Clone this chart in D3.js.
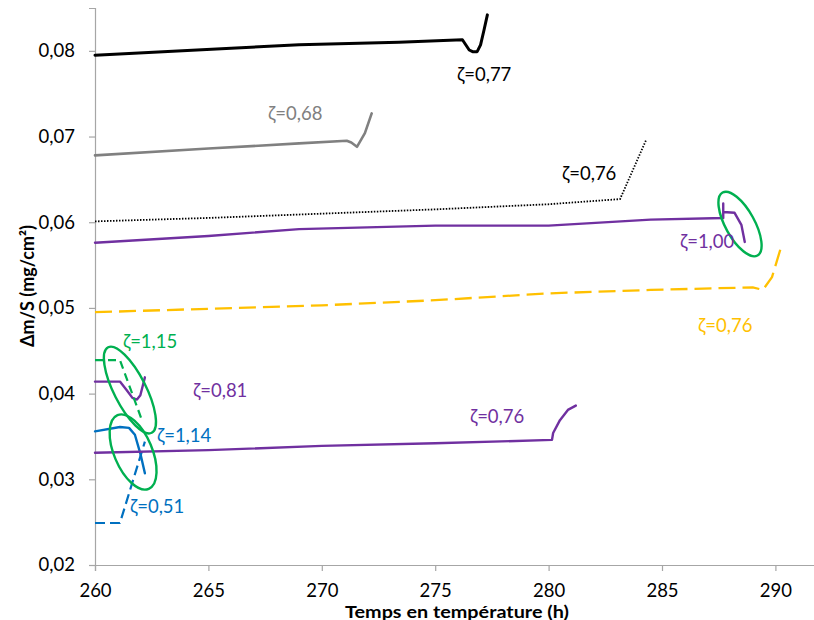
<!DOCTYPE html>
<html>
<head>
<meta charset="utf-8">
<script src="https://cdn.jsdelivr.net/npm/d3@7"></script>
<style>
  body { margin: 0; background: #fff; }
  svg { display: block; font-family: Lato, "Open Sans", sans-serif; }
</style>
</head>
<body>
<svg id="chart" width="814" height="620"></svg>
<script>
// ---------- data ----------
const xTicks = [260, 265, 270, 275, 280, 285, 290];
const yTicks = [0.02, 0.03, 0.04, 0.05, 0.06, 0.07, 0.08];
const yTickLabels = ["0,02", "0,03", "0,04", "0,05", "0,06", "0,07", "0,08"];
const xTitle = "Temps en température (h)";
const yTitle = "Δm/S (mg/cm²)";

const black077 = [[260,0.0795],[263,0.0799],[266,0.0803],[269,0.0807],[273.4,0.0810],[276.2,0.0813],[276.5,0.0801],[276.65,0.0799],[276.85,0.0799],[277.0,0.0807],[277.15,0.0824],[277.3,0.0842]];
const gray068 = [[260,0.0678],[265,0.0686],[269,0.0692],[271.1,0.0695],[271.3,0.0693],[271.55,0.0688],[271.9,0.0704],[272.2,0.0727]];
const dotted076 = [[260,0.0601],[265,0.0605],[270,0.0610],[275,0.0615],[280,0.0621],[283.15,0.0627],[284.3,0.0696]];
const purple100 = [[260,0.0576],[265,0.0584],[269,0.0592],[275,0.0596],[280,0.0596],[284.5,0.0603],[287.7,0.0605],[287.7,0.0622],[287.7,0.0612],[288.2,0.0611],[288.5,0.0597],[288.65,0.0577]];
const yellow076 = [[260,0.0495],[265,0.0499],[270,0.0503],[275,0.0509],[280,0.0517],[284.5,0.0521],[289.0,0.0524],[289.45,0.0521],[289.85,0.0536],[290.25,0.0571]];
const purple081 = [[260,0.0414],[261.1,0.0414],[261.4,0.0404],[261.65,0.0395],[261.85,0.0393],[262.0,0.0398],[262.2,0.0419]];
const green115 = [[260,0.0439],[261.1,0.0439],[262.07,0.0369]];
const blue114 = [[260,0.0356],[261.1,0.0361],[261.5,0.0360],[261.76,0.0352],[262.0,0.0330],[262.2,0.0307]];
const blue051 = [[260,0.0249],[261.1,0.0249],[262.2,0.0344]];
const purple076 = [[260,0.0331],[265,0.0334],[270,0.0339],[275,0.0342],[280.15,0.0346],[280.2,0.0354],[280.5,0.0369],[280.85,0.0381],[281.2,0.0386]];

// labels: text, x, y (data units, left/baseline)
const labelTexts = ["ζ=0,77","ζ=0,68","ζ=0,76","ζ=1,00","ζ=0,76","ζ=1,15","ζ=0,81","ζ=1,14","ζ=0,51","ζ=0,76"];
const labelX = [275.96, 267.63, 280.59, 285.79, 286.59, 261.23, 264.32, 262.73, 261.54, 276.53];
const labelY = [0.07648, 0.07193, 0.06493, 0.05699, 0.04719, 0.04532, 0.0396, 0.03435, 0.02607, 0.03657];

// green ellipse annotations: centres in data units
const ellipseX = [261.54, 261.68, 288.44];
const ellipseY = [0.04042, 0.03319, 0.05979];

// ---------- styles ----------
const C = { black: "#000000", gray: "#808080", purple: "#7030A0", yellow: "#FFC000", green: "#00B050", blue: "#0070C0" };
const seriesDefs = [
  { data: black077, color: C.black, width: 3, dash: null },
  { data: gray068, color: C.gray, width: 2.6, dash: null },
  { data: dotted076, color: C.black, width: 1.8, dash: "1.5,1.5" },
  { data: purple100, color: C.purple, width: 2.4, dash: null },
  { data: yellow076, color: C.yellow, width: 2.3, dash: "17,7" },
  { data: purple081, color: C.purple, width: 2.4, dash: null },
  { data: green115, color: C.green, width: 2.2, dash: "8,5" },
  { data: blue114, color: C.blue, width: 2.4, dash: null },
  { data: blue051, color: C.blue, width: 2.2, dash: "10,5" },
  { data: purple076, color: C.purple, width: 2.4, dash: null }
];
const labelColors = [C.black, C.gray, C.black, C.purple, C.yellow, C.green, C.purple, C.blue, C.blue, C.purple];
const ellipseGeom = [ { rx: 16, ry: 48, rot: -27 }, { rx: 19, ry: 40, rot: -23 }, { rx: 14.5, ry: 36, rot: -29 } ];

// ---------- layout ----------
const svg = d3.select("#chart");
const x0 = 95, y0 = 565, yTop = 8;
const x = d3.scaleLinear().domain([260, 292]).range([x0, x0 + 32 * 22.68]);
const y = d3.scaleLinear().domain([0.02, 0.085]).range([y0, yTop]);
const axisColor = "#a6a6a6";

// axes
const xAxis = svg.append("g").attr("transform", `translate(0,${y0})`)
  .call(d3.axisBottom(x).tickValues(xTicks).tickSize(6).tickPadding(13).tickFormat(d3.format("d")));
const yAxis = svg.append("g").attr("transform", `translate(${x0},0)`)
  .call(d3.axisLeft(y).tickValues(yTicks).tickSize(6).tickPadding(14).tickFormat((d, i) => yTickLabels[i]));
[xAxis, yAxis].forEach(g => {
  g.select(".domain").attr("stroke", axisColor).attr("stroke-width", 1.2);
  g.selectAll(".tick line").attr("stroke", axisColor).attr("stroke-width", 1.2);
  g.selectAll(".tick text").attr("fill", "#000").style("font-size", "18.5px").style("font-family", "Lato, sans-serif");
});

// axis titles
svg.append("text").attr("x", 457).attr("y", 617.5).attr("text-anchor", "middle")
  .attr("textLength", 224).attr("lengthAdjust", "spacingAndGlyphs")
  .style("font-size", "17.5px").style("font-weight", "bold").text(xTitle);
svg.append("text").attr("transform", "translate(27,286) rotate(-90)").attr("text-anchor", "middle")
  .attr("dominant-baseline", "central")
  .style("font-size", "18px").style("font-weight", "bold").text(yTitle);

// series
const line = d3.line().x(d => x(d[0])).y(d => y(d[1]));
seriesDefs.forEach(s => {
  svg.append("path").datum(s.data).attr("d", line)
    .attr("fill", "none").attr("stroke", s.color).attr("stroke-width", s.width)
    .attr("stroke-linejoin", "round").attr("stroke-linecap", s.dash ? "butt" : "round")
    .attr("stroke-dasharray", s.dash);
});

// ellipses
ellipseX.forEach((ex, i) => {
  const g = ellipseGeom[i];
  svg.append("ellipse")
    .attr("transform", `translate(${x(ex)},${y(ellipseY[i])}) rotate(${g.rot})`)
    .attr("rx", g.rx).attr("ry", g.ry)
    .attr("fill", "none").attr("stroke", C.green).attr("stroke-width", 2.4);
});

// labels
labelTexts.forEach((t, i) => {
  svg.append("text").attr("x", x(labelX[i])).attr("y", y(labelY[i]))
    .attr("fill", labelColors[i]).style("font-size", "18.5px").text(t);
});
</script>
</body>
</html>
